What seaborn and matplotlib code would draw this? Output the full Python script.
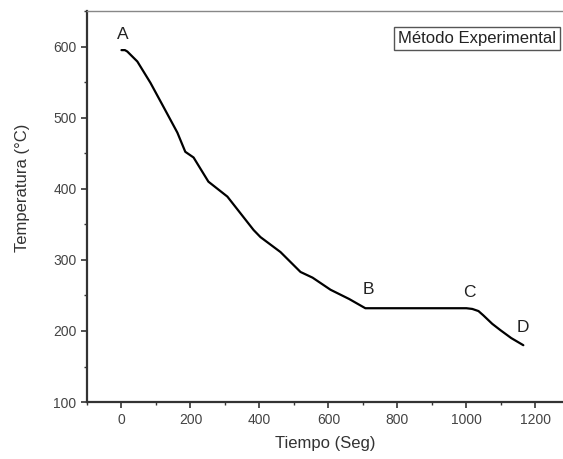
import matplotlib
matplotlib.use("Agg")
import matplotlib.pyplot as plt
from matplotlib.ticker import MultipleLocator
import seaborn as sns
import pandas as pd

# cooling curve
tiempo = [0, 10, 17, 46, 84, 122, 162, 185, 209, 252, 307, 383, 403, 461,
          519, 554, 606, 660, 707, 800, 900, 1000, 1017, 1035, 1049, 1075,
          1099, 1130, 1165]
temperatura = [595, 595, 593, 579, 549, 515, 479, 452, 444, 410, 389, 342,
               332, 311, 283, 275, 258, 245, 232, 232, 232, 232, 231, 228,
               222, 210, 201, 190, 180]

puntos = ["A", "B", "C", "D"]
puntos_x = [3, 716, 1009, 1165]
puntos_y = [617, 258, 254, 205]

df = pd.DataFrame({"Tiempo": tiempo, "Temperatura": temperatura})

sns.set_style("ticks")
plt.rcParams["font.family"] = ["Liberation Sans", "DejaVu Sans"]

fig = plt.figure(figsize=(5.63, 4.59), dpi=100)
ax = fig.add_axes([0.1545, 0.124, 0.8455, 0.852])

sns.lineplot(data=df, x="Tiempo", y="Temperatura", color="black",
             linewidth=1.6, ax=ax)

for lab, px, py in zip(puntos, puntos_x, puntos_y):
    ax.text(px, py, lab, fontsize=12.5, color="#222222", ha="center", va="center")

ax.set_xlim(-100, 1280)
ax.set_ylim(100, 650)
ax.xaxis.set_major_locator(MultipleLocator(200))
ax.xaxis.set_minor_locator(MultipleLocator(100))
ax.yaxis.set_major_locator(MultipleLocator(100))
ax.yaxis.set_minor_locator(MultipleLocator(50))
ax.tick_params(which="major", length=4, width=1.2, colors="#333333",
               labelsize=10, labelcolor="#444444")
ax.tick_params(which="minor", length=2.5, width=1.0, colors="#333333")

ax.spines["right"].set_visible(False)
ax.spines["top"].set_color("#888888")
ax.spines["top"].set_linewidth(1.0)
for s in ["left", "bottom"]:
    ax.spines[s].set_linewidth(1.6)
    ax.spines[s].set_color("#333333")

ax.set_xlabel("Tiempo (Seg)", fontsize=12, color="#333333", labelpad=7)
ax.set_ylabel("Temperatura (°C)", fontsize=12, color="#333333")
ax.yaxis.set_label_coords(-0.12, 0.547)

ax.text(0.985, 0.93, "Método Experimental", transform=ax.transAxes,
        ha="right", va="center", fontsize=12, color="#222222",
        bbox=dict(boxstyle="square,pad=0.25", fc="white", ec="#555555", lw=1.0))

fig.savefig("out.png", dpi=100)
